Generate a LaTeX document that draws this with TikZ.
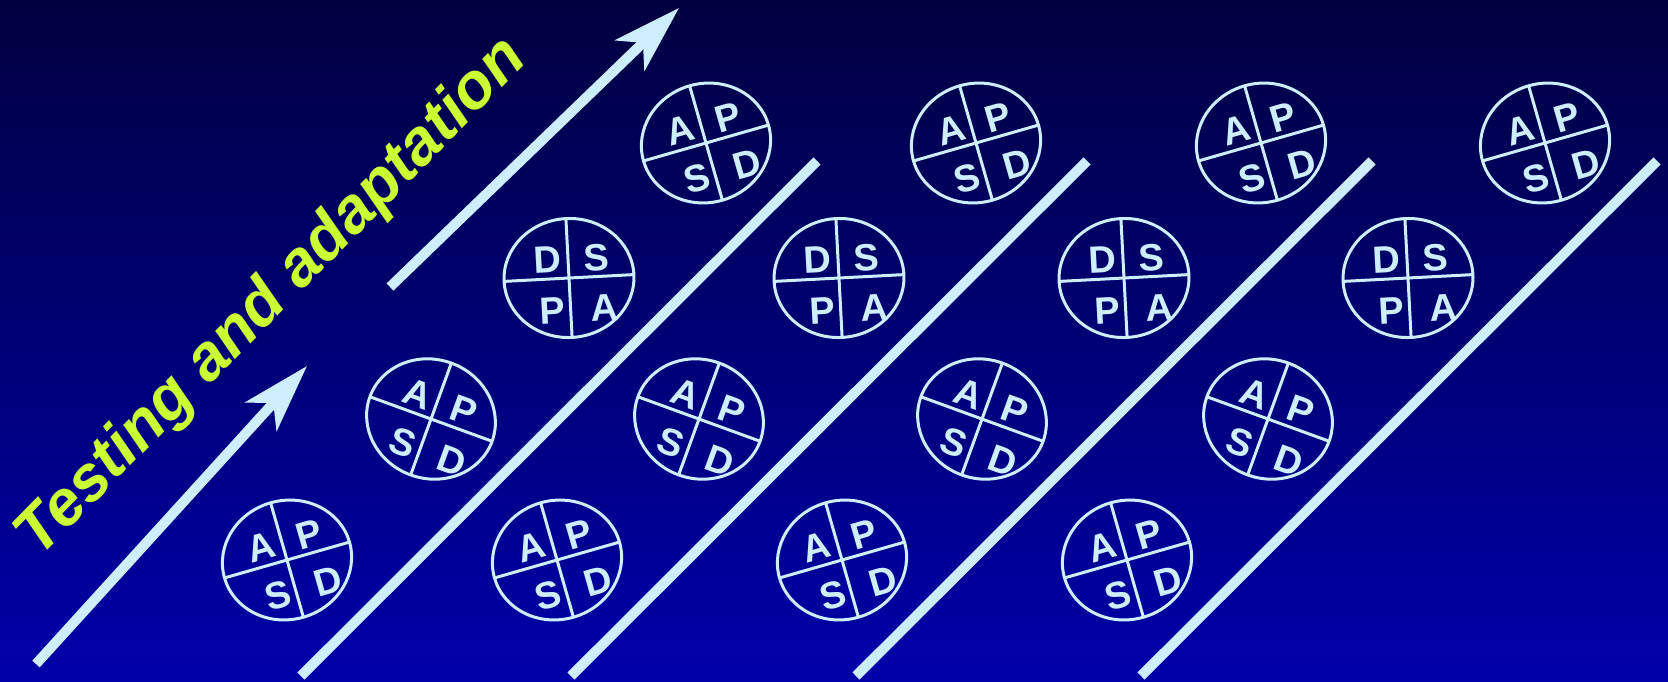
\documentclass[tikz,border=0pt]{standalone}
\usepackage{fontspec}
\setmainfont{Liberation Sans}
\usetikzlibrary{arrows.meta}
\definecolor{bgtop}{RGB}{0,0,64}
\definecolor{bgbot}{RGB}{0,0,170}
\definecolor{ice}{RGB}{204,238,255}
\definecolor{lime}{RGB}{204,255,51}
\tikzset{
  ring/.style={draw=ice, line width=3pt},
  lt/.style={text=ice, inner sep=0pt, font=\fontsize{38}{38}\selectfont\bfseries},
  bar/.style={draw=ice, line width=10pt},
  arr/.style={bar, -{Stealth[length=68pt, width=42pt, inset=18pt]}},
  pics/quad/.style n args={4}{code={
    \draw[ring] (0,0) ellipse [x radius=65, y radius=59.5];
    \draw[ring] (-65,0) -- (65,0);
    \draw[ring] (0,-59.5) -- (0,59.5);
    \node[lt] at (-21,-19) {#1};
    \node[lt] at (28,-19) {#2};
    \node[lt] at (-18,32) {#3};
    \node[lt] at (34,32) {#4};
  }}
}
\begin{document}
\begin{tikzpicture}[x=1pt,y=-1pt]
\useasboundingbox (0,0) rectangle (1668,681);
\shade[top color=bgtop, bottom color=bgbot] (0,0) rectangle (1668,681);
% arrows
\coordinate (a1s) at (36,664); \coordinate (a1e) at (307,366);
\coordinate (a2s) at (390,287); \coordinate (a2e) at (679,8);
\draw[arr] (a1s) -- (a1e);
\draw[arr] (a2s) -- (a2e);
% diagonal lines
\coordinate (l1s) at (301,676); \coordinate (l1e) at (817,161);
\coordinate (l2s) at (571,676); \coordinate (l2e) at (1087,161);
\coordinate (l3s) at (856,676); \coordinate (l3e) at (1372,161);
\coordinate (l4s) at (1141,676); \coordinate (l4e) at (1657,161);
\foreach \i in {1,2,3,4} \draw[bar] (l\i s) -- (l\i e);
% text
\node[rotate=45.5, anchor=base, text=lime, inner sep=0pt,
      font=\fontsize{64}{64}\selectfont\bfseries\itshape] (title) at (284,310) {Testing and adaptation};
% cycles
\foreach \x in {706,976,1261,1545}
  \pic[rotate=16, transform shape] at (\x,143) {quad={A}{P}{S}{D}};
\foreach \x in {569,839,1124,1408}
  \pic[rotate=3, transform shape] at (\x,278) {quad={D}{S}{P}{A}};
\foreach \x in {431,699,982,1268}
  \pic[rotate=-20, transform shape] at (\x,419) {quad={A}{P}{S}{D}};
\foreach \x in {287,557,842,1127}
  \pic[rotate=16, transform shape] at (\x,560) {quad={A}{P}{S}{D}};
\end{tikzpicture}
\end{document}
